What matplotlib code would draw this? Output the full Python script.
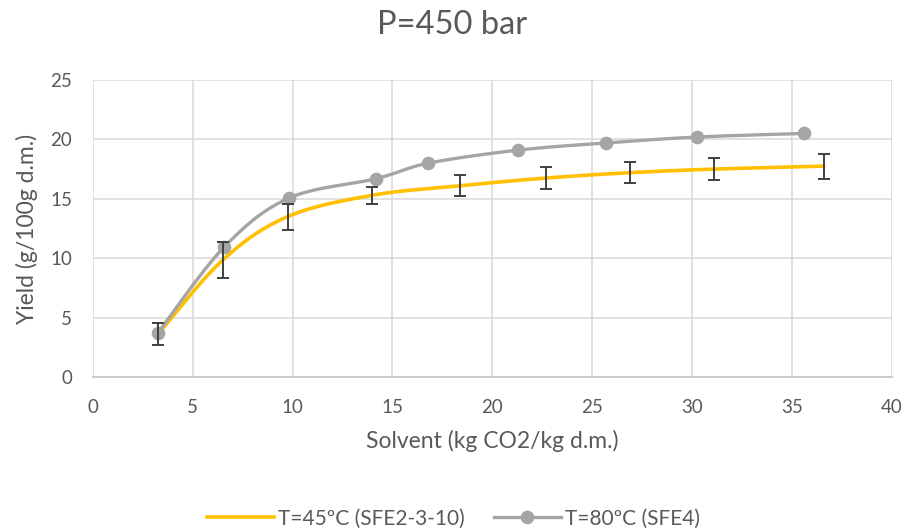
import numpy as np
import matplotlib
matplotlib.use("Agg")
import matplotlib.pyplot as plt
from matplotlib.lines import Line2D

# Extraction curves at P = 450 bar
x45 = [3.25, 6.5, 9.75, 14.0, 18.4, 22.7, 26.9, 31.1, 36.6]
y45 = [3.6, 9.85, 13.5, 15.3, 16.1, 16.75, 17.2, 17.5, 17.75]
err45 = [0.93, 1.5, 1.1, 0.72, 0.88, 0.91, 0.91, 0.93, 1.05]

x80 = [3.25, 6.55, 9.8, 14.2, 16.8, 21.3, 25.7, 30.25, 35.6]
y80 = [3.7, 10.9, 15.05, 16.7, 18.0, 19.1, 19.7, 20.2, 20.5]

label45 = "T=45ºC (SFE2-3-10)"
label80 = "T=80ºC (SFE4)"
title = "P=450 bar"
xlabel = "Solvent (kg CO2/kg d.m.)"
ylabel = "Yield (g/100g d.m.)"
xticks = [0, 5, 10, 15, 20, 25, 30, 35, 40]
yticks = [0, 5, 10, 15, 20, 25]

YELLOW = "#FFC000"
GRAY = "#A5A5A5"
TEXT = "#595959"
GRID = "#D9D9D9"

plt.rcParams["font.family"] = ["Lato", "DejaVu Sans"]


def smooth(xs, ys, n=40):
    """Spreadsheet-style smoothed line: cubic Bezier segments with 1/6 tangents."""
    p = np.column_stack([xs, ys]).astype(float)
    pts = np.vstack([p[0], p, p[-1]])
    out = []
    t = np.linspace(0, 1, n)[:, None]
    for i in range(1, len(pts) - 2):
        p0, p1 = pts[i], pts[i + 1]
        c1 = p0 + (pts[i + 1] - pts[i - 1]) / 6.0
        c2 = p1 - (pts[i + 2] - pts[i]) / 6.0
        seg = ((1 - t) ** 3) * p0 + 3 * ((1 - t) ** 2) * t * c1 + 3 * (1 - t) * t ** 2 * c2 + t ** 3 * p1
        out.append(seg if i == 1 else seg[1:])
    c = np.vstack(out)
    return c[:, 0], c[:, 1]


fig = plt.figure(figsize=(9.07, 5.32), dpi=100)
ax = fig.add_axes([0.1025, 0.2914, 0.8805, 0.5582])

ax.set_xlim(0, 40)
ax.set_ylim(0, 25)
ax.set_xticks(xticks)
ax.set_yticks(yticks)
ax.grid(True, color=GRID, linewidth=1.1)
ax.set_axisbelow(True)
for side in ["top", "right", "left"]:
    ax.spines[side].set_visible(False)
ax.spines["bottom"].set_color("#C8C8C8")
ax.spines["bottom"].set_linewidth(1.3)
ax.tick_params(length=0, labelsize=13.5, colors=TEXT)
ax.tick_params(axis="x", pad=16)
ax.tick_params(axis="y", pad=15)
for lab in ax.get_xticklabels() + ax.get_yticklabels():
    lab.set_color(TEXT)

sx, sy = smooth(x45, y45)
ax.plot(sx, sy, color=YELLOW, linewidth=2.6, solid_capstyle="round", zorder=3)
ax.errorbar(x45, y45, yerr=err45, fmt="none", ecolor="#404040", elinewidth=1.4,
            capsize=4, capthick=1.4, zorder=5)

gx, gy = smooth(x80, y80)
ax.plot(gx, gy, color=GRAY, linewidth=2.4, zorder=4)
ax.plot(x80, y80, linestyle="none", marker="o", markersize=8.8,
        color=GRAY, markeredgecolor=GRAY, zorder=4)

ax.set_xlabel(xlabel, fontsize=16.5, color=TEXT, labelpad=10)
ax.set_ylabel(ylabel, fontsize=16.5, color=TEXT, labelpad=9)

fig.text(0.4985, 0.953, title, ha="center", va="center", fontsize=23.5, color=TEXT)

handles = [
    Line2D([], [], color=YELLOW, linewidth=2.6),
    Line2D([], [], color=GRAY, linewidth=2.4, marker="o", markersize=8.8),
]
fig.legend(handles, [label45, label80], loc="center", bbox_to_anchor=(0.5, 0.025),
           ncol=2, frameon=False, fontsize=15, labelcolor=TEXT,
           handlelength=3.2, handletextpad=0.2, columnspacing=1.4)

fig.savefig("out.png", dpi=100)
